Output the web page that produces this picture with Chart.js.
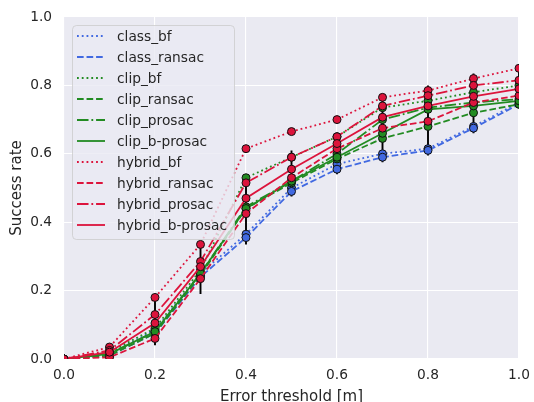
<!DOCTYPE html>
<html><head><meta charset="utf-8">
<script src="https://cdn.jsdelivr.net/npm/chart.js@4/dist/chart.umd.min.js"></script>
<style>html,body{margin:0;padding:0;background:#fff}#wrap{width:534px;height:402px}</style>
</head><body><div id="wrap"><canvas id="c" width="534" height="402"></canvas></div>
<script>
// ---- data ----
const thresholds = [0.0, 0.1, 0.2, 0.3, 0.4, 0.5, 0.6, 0.7, 0.8, 0.9, 1.0];
const class_bf        = [0, 0.015, 0.085, 0.250, 0.365, 0.500, 0.570, 0.600, 0.615, 0.680, 0.750];
const class_ransac    = [0, 0.010, 0.075, 0.240, 0.355, 0.490, 0.555, 0.590, 0.610, 0.675, 0.745];
const clip_bf         = [0, 0.020, 0.090, 0.260, 0.530, 0.590, 0.650, 0.735, 0.755, 0.780, 0.800];
const clip_ransac     = [0, 0.010, 0.075, 0.245, 0.440, 0.515, 0.585, 0.645, 0.680, 0.720, 0.745];
const clip_prosac     = [0, 0.015, 0.080, 0.250, 0.445, 0.520, 0.600, 0.700, 0.735, 0.750, 0.760];
const clip_bprosac    = [0, 0.015, 0.080, 0.250, 0.440, 0.520, 0.590, 0.660, 0.730, 0.740, 0.755];
const hybrid_bf       = [0, 0.035, 0.180, 0.335, 0.615, 0.665, 0.700, 0.765, 0.785, 0.820, 0.850];
const hybrid_ransac   = [0, 0.005, 0.060, 0.235, 0.425, 0.530, 0.615, 0.675, 0.695, 0.750, 0.770];
const hybrid_prosac   = [0, 0.025, 0.130, 0.285, 0.515, 0.590, 0.650, 0.740, 0.770, 0.800, 0.815];
const hybrid_bprosac  = [0, 0.020, 0.105, 0.270, 0.470, 0.555, 0.630, 0.707, 0.740, 0.768, 0.790];
const seriesNames = ["class_bf","class_ransac","clip_bf","clip_ransac","clip_prosac","clip_b-prosac",
                     "hybrid_bf","hybrid_ransac","hybrid_prosac","hybrid_b-prosac"];
const seriesValues = [class_bf, class_ransac, clip_bf, clip_ransac, clip_prosac, clip_bprosac,
                      hybrid_bf, hybrid_ransac, hybrid_prosac, hybrid_bprosac];
// error bar extents (union over series) at each threshold
const errX  = [0.1, 0.2, 0.3, 0.4, 0.5, 0.6, 0.7, 0.8, 0.9, 1.0];
const errLo = [0.000, 0.040, 0.190, 0.335, 0.475, 0.540, 0.575, 0.595, 0.660, 0.735];
const errHi = [0.040, 0.185, 0.340, 0.540, 0.610, 0.660, 0.775, 0.800, 0.835, 0.860];
const xTicks = [0.0, 0.2, 0.4, 0.6, 0.8, 1.0];
const yTicks = [0.0, 0.2, 0.4, 0.6, 0.8, 1.0];

// ---- styles ----
const BLUE = '#4169E1', GREEN = '#228B22', RED = '#DC143C';
const LW = 1.8;
const DASH = {
  dot: [LW*1.0, LW*1.65],
  dash: [LW*3.7, LW*1.6],
  dashdot: [LW*6.4, LW*1.6, LW*1.0, LW*1.6],
  solid: []
};
const seriesColors = [BLUE, BLUE, GREEN, GREEN, GREEN, GREEN, RED, RED, RED, RED];
const seriesDash = ['dot','dash','dot','dash','dashdot','solid','dot','dash','dashdot','solid'];
const TXT = '#262626';
const FONT = '"DejaVu Sans", sans-serif';

const datasets = seriesNames.map((name, i) => ({
  label: name,
  data: thresholds.map((x, j) => ({x: x, y: seriesValues[i][j]})),
  borderColor: seriesColors[i],
  backgroundColor: seriesColors[i],
  borderWidth: LW,
  borderDash: DASH[seriesDash[i]],
  borderCapStyle: 'butt',
  pointRadius: 4,
  pointBorderWidth: 1,
  pointBorderColor: '#111',
  pointBackgroundColor: seriesColors[i],
  tension: 0,
  fill: false,
  clip: 0,
  order: 50 - i,
  _legend: true
}));
const errData = [];
errX.forEach((x, k) => {
  errData.push({x: x, y: errLo[k]});
  errData.push({x: x, y: errHi[k]});
  errData.push({x: x, y: null});
});
datasets.push({
  label: '',
  data: errData,
  borderColor: '#000',
  borderWidth: 1.9,
  pointRadius: 0,
  spanGaps: false,
  clip: 0,
  order: 100
});

const bgPlugin = {
  id: 'bg',
  beforeDraw(chart) {
    const {ctx, chartArea: a} = chart;
    ctx.save();
    ctx.fillStyle = '#EAEAF2';
    ctx.fillRect(a.left, a.top, a.right - a.left, a.bottom - a.top);
    ctx.restore();
  }
};

const legendPlugin = {
  id: 'mplLegend',
  afterDraw(chart) {
    const {ctx, chartArea: a} = chart;
    const items = chart.data.datasets.filter(d => d._legend);
    const x0 = a.left + 8, y0 = a.top + 8, w = 162, rowH = 21, padT = 11;
    const h = items.length * rowH + 4;
    ctx.save();
    ctx.beginPath();
    ctx.roundRect(x0 + 0.5, y0 + 0.5, w, h, 4);
    ctx.fillStyle = 'rgba(234,234,242,0.8)';
    ctx.fill();
    ctx.lineWidth = 1;
    ctx.strokeStyle = 'rgba(204,204,204,0.8)';
    ctx.stroke();
    items.forEach((d, i) => {
      const cy = y0 + padT + i * rowH;
      ctx.beginPath();
      ctx.setLineDash(d.borderDash);
      ctx.lineCap = 'butt';
      ctx.lineWidth = LW;
      ctx.strokeStyle = d.borderColor;
      ctx.moveTo(x0 + 5, cy);
      ctx.lineTo(x0 + 33, cy);
      ctx.stroke();
      ctx.setLineDash([]);
      ctx.fillStyle = TXT;
      ctx.font = '13.75px ' + FONT;
      ctx.textBaseline = 'middle';
      ctx.textAlign = 'left';
      ctx.fillText(d.label, x0 + 45, cy + 1);
    });
    ctx.restore();
  }
};

new Chart(document.getElementById('c'), {
  type: 'line',
  data: {datasets},
  options: {
    responsive: false,
    animation: false,
    events: [],
    layout: {padding: {top: 17, right: 15, left: 0, bottom: 0}},
    plugins: {legend: {display: false}, tooltip: {enabled: false}},
    scales: {
      x: {
        type: 'linear', min: 0, max: 1,
        afterBuildTicks(s) { s.ticks = xTicks.map(v => ({value: v})); },
        afterFit(s) { s.height = 43; s.paddingLeft = 0; s.paddingRight = 0; },
        grid: {color: '#FFFFFF', lineWidth: 1.1, drawTicks: false},
        border: {display: false},
        ticks: {color: TXT, font: {family: FONT, size: 13.75}, padding: 8,
                callback: v => Number(v).toFixed(1), maxRotation: 0},
        title: {display: true, text: 'Error threshold [m]', color: TXT,
                font: {family: FONT, size: 15, lineHeight: 0.7}, padding: {top: 0, bottom: 0}}
      },
      y: {
        type: 'linear', min: 0, max: 1,
        afterBuildTicks(s) { s.ticks = yTicks.map(v => ({value: v})); },
        afterFit(s) { s.width = 64; s.paddingTop = 0; s.paddingBottom = 0; },
        grid: {color: '#FFFFFF', lineWidth: 1.1, drawTicks: false},
        border: {display: false},
        ticks: {color: TXT, font: {family: FONT, size: 13.75}, padding: 12,
                callback: v => Number(v).toFixed(1)},
        title: {display: true, text: 'Success rate', color: TXT,
                font: {family: FONT, size: 15, lineHeight: 1}, padding: {top: 10, bottom: 0}}
      }
    }
  },
  plugins: [bgPlugin, legendPlugin]
});
</script></body></html>
